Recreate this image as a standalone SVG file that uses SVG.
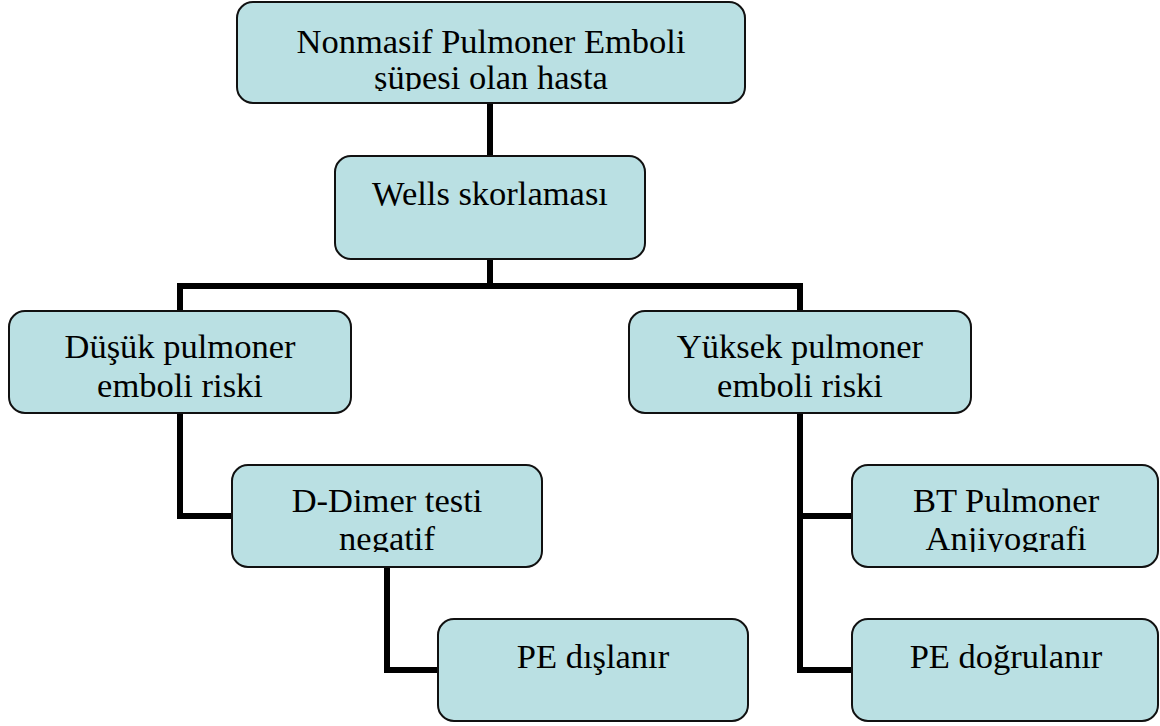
<svg xmlns="http://www.w3.org/2000/svg" width="1160" height="726" viewBox="0 0 1160 726">
<style>
.box{fill:#BAE0E3;stroke:#111;stroke-width:2}
.t{font-family:"Liberation Serif","Times New Roman",serif;font-size:34.5px;fill:#000;text-anchor:middle}
.c{fill:none;stroke:#000;stroke-width:6;stroke-linejoin:miter;stroke-linecap:butt}
</style>
<defs>
<clipPath id="c1"><rect x="237" y="2" width="508" height="89"/></clipPath>
<clipPath id="c4"><rect x="232" y="465" width="310" height="87"/></clipPath>
<clipPath id="c5"><rect x="852" y="465" width="310" height="87"/></clipPath>
</defs>
<rect width="1160" height="726" fill="#fff"/>
<g id="connectors">
<path class="c" d="M490 103V156"/>
<path class="c" d="M490 259V286"/>
<path class="c" d="M180 311V286H800V311"/>
<path class="c" d="M180 413V516H232"/>
<path class="c" d="M387 567V670H438"/>
<path class="c" d="M800 413V670H852"/>
<path class="c" d="M800 516H852"/>
</g>
<g id="n1">
<rect class="box" x="237" y="2" width="508" height="101" rx="16"/>
<g clip-path="url(#c1)"><text class="t" x="491" y="53">Nonmasif Pulmoner Emboli</text><text class="t" x="491" y="89">şüpesi olan hasta</text></g>
</g>
<g id="n2">
<rect class="box" x="335" y="156" width="310" height="103" rx="16"/>
<text class="t" x="490" y="205">Wells skorlaması</text>
</g>
<g id="n3">
<rect class="box" x="9" y="311" width="342" height="102" rx="16"/>
<text class="t" x="180" y="358">Düşük pulmoner</text>
<text class="t" x="180" y="397">emboli riski</text>
</g>
<g id="n4">
<rect class="box" x="629" y="311" width="342" height="102" rx="16"/>
<text class="t" x="800" y="358">Yüksek pulmoner</text>
<text class="t" x="800" y="397">emboli riski</text>
</g>
<g id="n5">
<rect class="box" x="232" y="465" width="310" height="102" rx="16"/>
<g clip-path="url(#c4)"><text class="t" x="387" y="512">D-Dimer testi</text><text class="t" x="387" y="550">negatif</text></g>
</g>
<g id="n6">
<rect class="box" x="852" y="465" width="306" height="102" rx="16"/>
<g clip-path="url(#c5)"><text class="t" x="1006" y="512">BT Pulmoner</text><text class="t" x="1006" y="550">Anjiyografi</text></g>
</g>
<g id="n7">
<rect class="box" x="438" y="619" width="310" height="102" rx="16"/>
<text class="t" x="593" y="668">PE dışlanır</text>
</g>
<g id="n8">
<rect class="box" x="852" y="619" width="306" height="102" rx="16"/>
<text class="t" x="1006" y="668">PE doğrulanır</text>
</g>
</svg>
